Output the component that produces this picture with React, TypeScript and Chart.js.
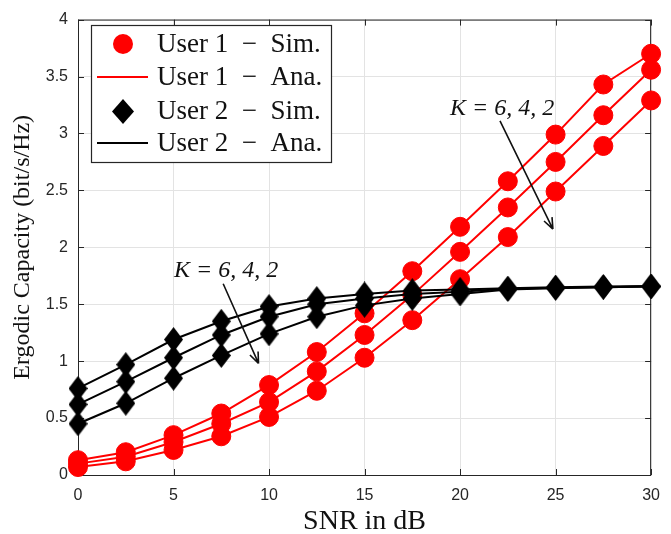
import React, { useEffect, useRef } from "react";
import { Chart, registerables } from "chart.js";

Chart.register(...registerables);

// ---------- data ----------
const snrDb = [0, 2.5, 5, 7.5, 10, 12.5, 15, 17.5, 20, 22.5, 25, 27.5, 30];

const user1K6 = [0.13, 0.2, 0.35, 0.54, 0.79, 1.08, 1.42, 1.79, 2.18, 2.58, 2.99, 3.43, 3.7];
const user1K4 = [0.1, 0.16, 0.29, 0.45, 0.64, 0.91, 1.23, 1.58, 1.96, 2.35, 2.75, 3.16, 3.56];
const user1K2 = [0.07, 0.12, 0.22, 0.34, 0.51, 0.74, 1.03, 1.36, 1.72, 2.09, 2.49, 2.89, 3.29];

const user2K6 = [0.76, 0.97, 1.19, 1.35, 1.48, 1.55, 1.59, 1.62, 1.63, 1.64, 1.65, 1.655, 1.66];
const user2K4 = [0.62, 0.82, 1.03, 1.23, 1.39, 1.5, 1.55, 1.59, 1.61, 1.635, 1.645, 1.65, 1.655];
const user2K2 = [0.45, 0.63, 0.85, 1.05, 1.24, 1.39, 1.49, 1.55, 1.59, 1.63, 1.64, 1.65, 1.655];

const legendLabels = [
  "User 1\u2002\u2212\u2002Sim.",
  "User 1\u2002\u2212\u2002Ana.",
  "User 2\u2002\u2212\u2002Sim.",
  "User 2\u2002\u2212\u2002Ana.",
];
const annotationText = "K = 6, 4, 2";
const xTitle = "SNR in dB";
const yTitle = "Ergodic Capacity (bit/s/Hz)";

// annotation anchors in data units
const annotationAnchors = [
  { textX: 5.03, textY: 1.74, fromX: 7.6, fromY: 1.68, toX: 9.45, toY: 0.98 },
  { textX: 19.47, textY: 3.16, fromX: 22.09, fromY: 3.11, toX: 24.86, toY: 2.16 },
];

const RED = "#ff0000";
const BLACK = "#000000";
const AXIS = "#262626";
const GRID = "#e3e3e3";
const SERIF = "'Liberation Serif', 'DejaVu Serif', serif";
const SANS = "'Liberation Sans', Arial, sans-serif";

function makeDiamond(w: number, h: number, color: string) {
  const c = document.createElement("canvas");
  c.width = w;
  c.height = h;
  const g = c.getContext("2d")!;
  g.fillStyle = color;
  g.beginPath();
  g.moveTo(w / 2, 0);
  g.lineTo(w, h / 2);
  g.lineTo(w / 2, h);
  g.lineTo(0, h / 2);
  g.closePath();
  g.fill();
  return c;
}

export default function App() {
  const ref = useRef<HTMLCanvasElement | null>(null);

  useEffect(() => {
    if (!ref.current) return;
    const diamond = makeDiamond(19, 25, BLACK);

    const mk = (vals: number[], color: string, style: any, order: number, radius: number) => ({
      data: snrDb.map((x, i) => ({ x, y: vals[i] })),
      borderColor: color,
      backgroundColor: color,
      borderWidth: 2,
      pointStyle: style,
      pointRadius: radius,
      pointHoverRadius: radius,
      pointBackgroundColor: color,
      pointBorderColor: color,
      pointBorderWidth: 1,
      tension: 0,
      clip: false as any,
      order,
    });

    const boxPlugin = {
      id: "boxPlugin",
      beforeDatasetsDraw(chart: any) {
        const { ctx, chartArea: a, scales } = chart;
        ctx.save();
        ctx.strokeStyle = AXIS;
        ctx.lineWidth = 1;
        const tl = 6;
        ctx.beginPath();
        scales.x.ticks.forEach((t: any) => {
          const px = Math.round(scales.x.getPixelForValue(t.value)) + 0.5;
          ctx.moveTo(px, a.bottom);
          ctx.lineTo(px, a.bottom - tl);
          ctx.moveTo(px, a.top);
          ctx.lineTo(px, a.top + tl);
        });
        scales.y.ticks.forEach((t: any) => {
          const py = Math.round(scales.y.getPixelForValue(t.value)) + 0.5;
          ctx.moveTo(a.left, py);
          ctx.lineTo(a.left + tl, py);
          ctx.moveTo(a.right, py);
          ctx.lineTo(a.right - tl, py);
        });
        ctx.stroke();
        ctx.strokeRect(a.left + 0.5, a.top + 0.5, a.right - a.left - 1, a.bottom - a.top);
        ctx.restore();
      },
      afterDraw(chart: any) {
        const { ctx, scales } = chart;
        ctx.save();
        // annotations
        ctx.fillStyle = "#111";
        ctx.strokeStyle = "#111";
        ctx.lineWidth = 1.6;
        ctx.font = `italic 24px ${SERIF}`;
        ctx.textBaseline = "alphabetic";
        ctx.textAlign = "left";
        annotationAnchors.forEach((an) => {
          const tx = scales.x.getPixelForValue(an.textX);
          const ty = scales.y.getPixelForValue(an.textY);
          ctx.fillText(annotationText, tx, ty);
          const x1 = scales.x.getPixelForValue(an.fromX);
          const y1 = scales.y.getPixelForValue(an.fromY);
          const x2 = scales.x.getPixelForValue(an.toX);
          const y2 = scales.y.getPixelForValue(an.toY);
          ctx.beginPath();
          ctx.moveTo(x1, y1);
          ctx.lineTo(x2, y2);
          const ang = Math.atan2(y2 - y1, x2 - x1);
          const hl = 12;
          const spread = 0.38;
          ctx.moveTo(x2, y2);
          ctx.lineTo(x2 - hl * Math.cos(ang - spread), y2 - hl * Math.sin(ang - spread));
          ctx.moveTo(x2, y2);
          ctx.lineTo(x2 - hl * Math.cos(ang + spread), y2 - hl * Math.sin(ang + spread));
          ctx.stroke();
        });

        // legend
        const lx = 91, ly = 25, lw = 240, lh = 137;
        ctx.fillStyle = "#ffffff";
        ctx.fillRect(lx, ly, lw, lh);
        ctx.strokeStyle = AXIS;
        ctx.lineWidth = 1.2;
        ctx.strokeRect(lx + 0.5, ly + 0.5, lw, lh);
        const rowY = [43, 76, 110, 142];
        const markX = 123;
        ctx.font = `27px ${SERIF}`;
        ctx.textAlign = "left";
        ctx.textBaseline = "alphabetic";
        legendLabels.forEach((lab, i) => {
          const cy = rowY[i];
          const color = i < 2 ? RED : BLACK;
          if (i === 0) {
            ctx.fillStyle = RED;
            ctx.beginPath();
            ctx.arc(markX, cy + 1, 10, 0, Math.PI * 2);
            ctx.fill();
          } else if (i === 2) {
            ctx.fillStyle = BLACK;
            ctx.beginPath();
            ctx.moveTo(markX, cy - 11);
            ctx.lineTo(markX + 11, cy + 1.5);
            ctx.lineTo(markX, cy + 14);
            ctx.lineTo(markX - 11, cy + 1.5);
            ctx.closePath();
            ctx.fill();
          } else {
            ctx.strokeStyle = color;
            ctx.lineWidth = 2.2;
            ctx.beginPath();
            ctx.moveTo(97, cy + 1);
            ctx.lineTo(148, cy + 1);
            ctx.stroke();
          }
          ctx.fillStyle = "#111";
          ctx.fillText(lab, 157, cy + 9);
        });
        ctx.restore();
      },
    };

    const chart = new Chart(ref.current, {
      type: "line",
      data: {
        datasets: [
          mk(user1K6, RED, "circle", 2, 9.5),
          mk(user1K4, RED, "circle", 2, 9.5),
          mk(user1K2, RED, "circle", 2, 9.5),
          mk(user2K6, BLACK, diamond, 1, 12),
          mk(user2K4, BLACK, diamond, 1, 12),
          mk(user2K2, BLACK, diamond, 1, 12),
        ] as any,
      },
      options: {
        animation: false,
        responsive: false,
        devicePixelRatio: 1,
        layout: { padding: { top: 15, right: 9, left: 0, bottom: 0 } },
        plugins: { legend: { display: false }, tooltip: { enabled: false } },
        events: [],
        scales: {
          x: {
            type: "linear",
            min: 0,
            max: 30,
            ticks: {
              stepSize: 5,
              color: AXIS,
              font: { family: SANS, size: 16 },
              padding: 11,
              maxRotation: 0,
              callback: (v: any) => String(v),
            },
            grid: { color: GRID, drawTicks: false, lineWidth: 1 },
            border: { display: false },
            title: {
              display: true,
              text: xTitle,
              color: "#111",
              font: { family: SERIF, size: 28, lineHeight: 0.85 },
              padding: { top: 0, bottom: 0 },
            },
            afterFit: (s: any) => {
              s.height = 59;
            },
          },
          y: {
            type: "linear",
            min: 0,
            max: 4,
            ticks: {
              stepSize: 0.5,
              color: AXIS,
              font: { family: SANS, size: 16 },
              padding: 10,
              callback: (v: any) => String(v),
            },
            grid: { color: GRID, drawTicks: false, lineWidth: 1 },
            border: { display: false },
            title: {
              display: true,
              text: yTitle,
              color: "#111",
              font: { family: SERIF, size: 24, lineHeight: 1 },
              padding: { top: 11, bottom: 0 },
            },
            afterFit: (s: any) => {
              s.width = 78;
            },
          },
        },
      },
      plugins: [boxPlugin],
    });
    return () => chart.destroy();
  }, []);

  return (
    <div style={{ position: "fixed", left: 0, top: 0, width: 671, height: 534, background: "#fff" }}>
      <canvas ref={ref} width={671} height={534} style={{ width: 671, height: 534, display: "block" }} />
    </div>
  );
}
